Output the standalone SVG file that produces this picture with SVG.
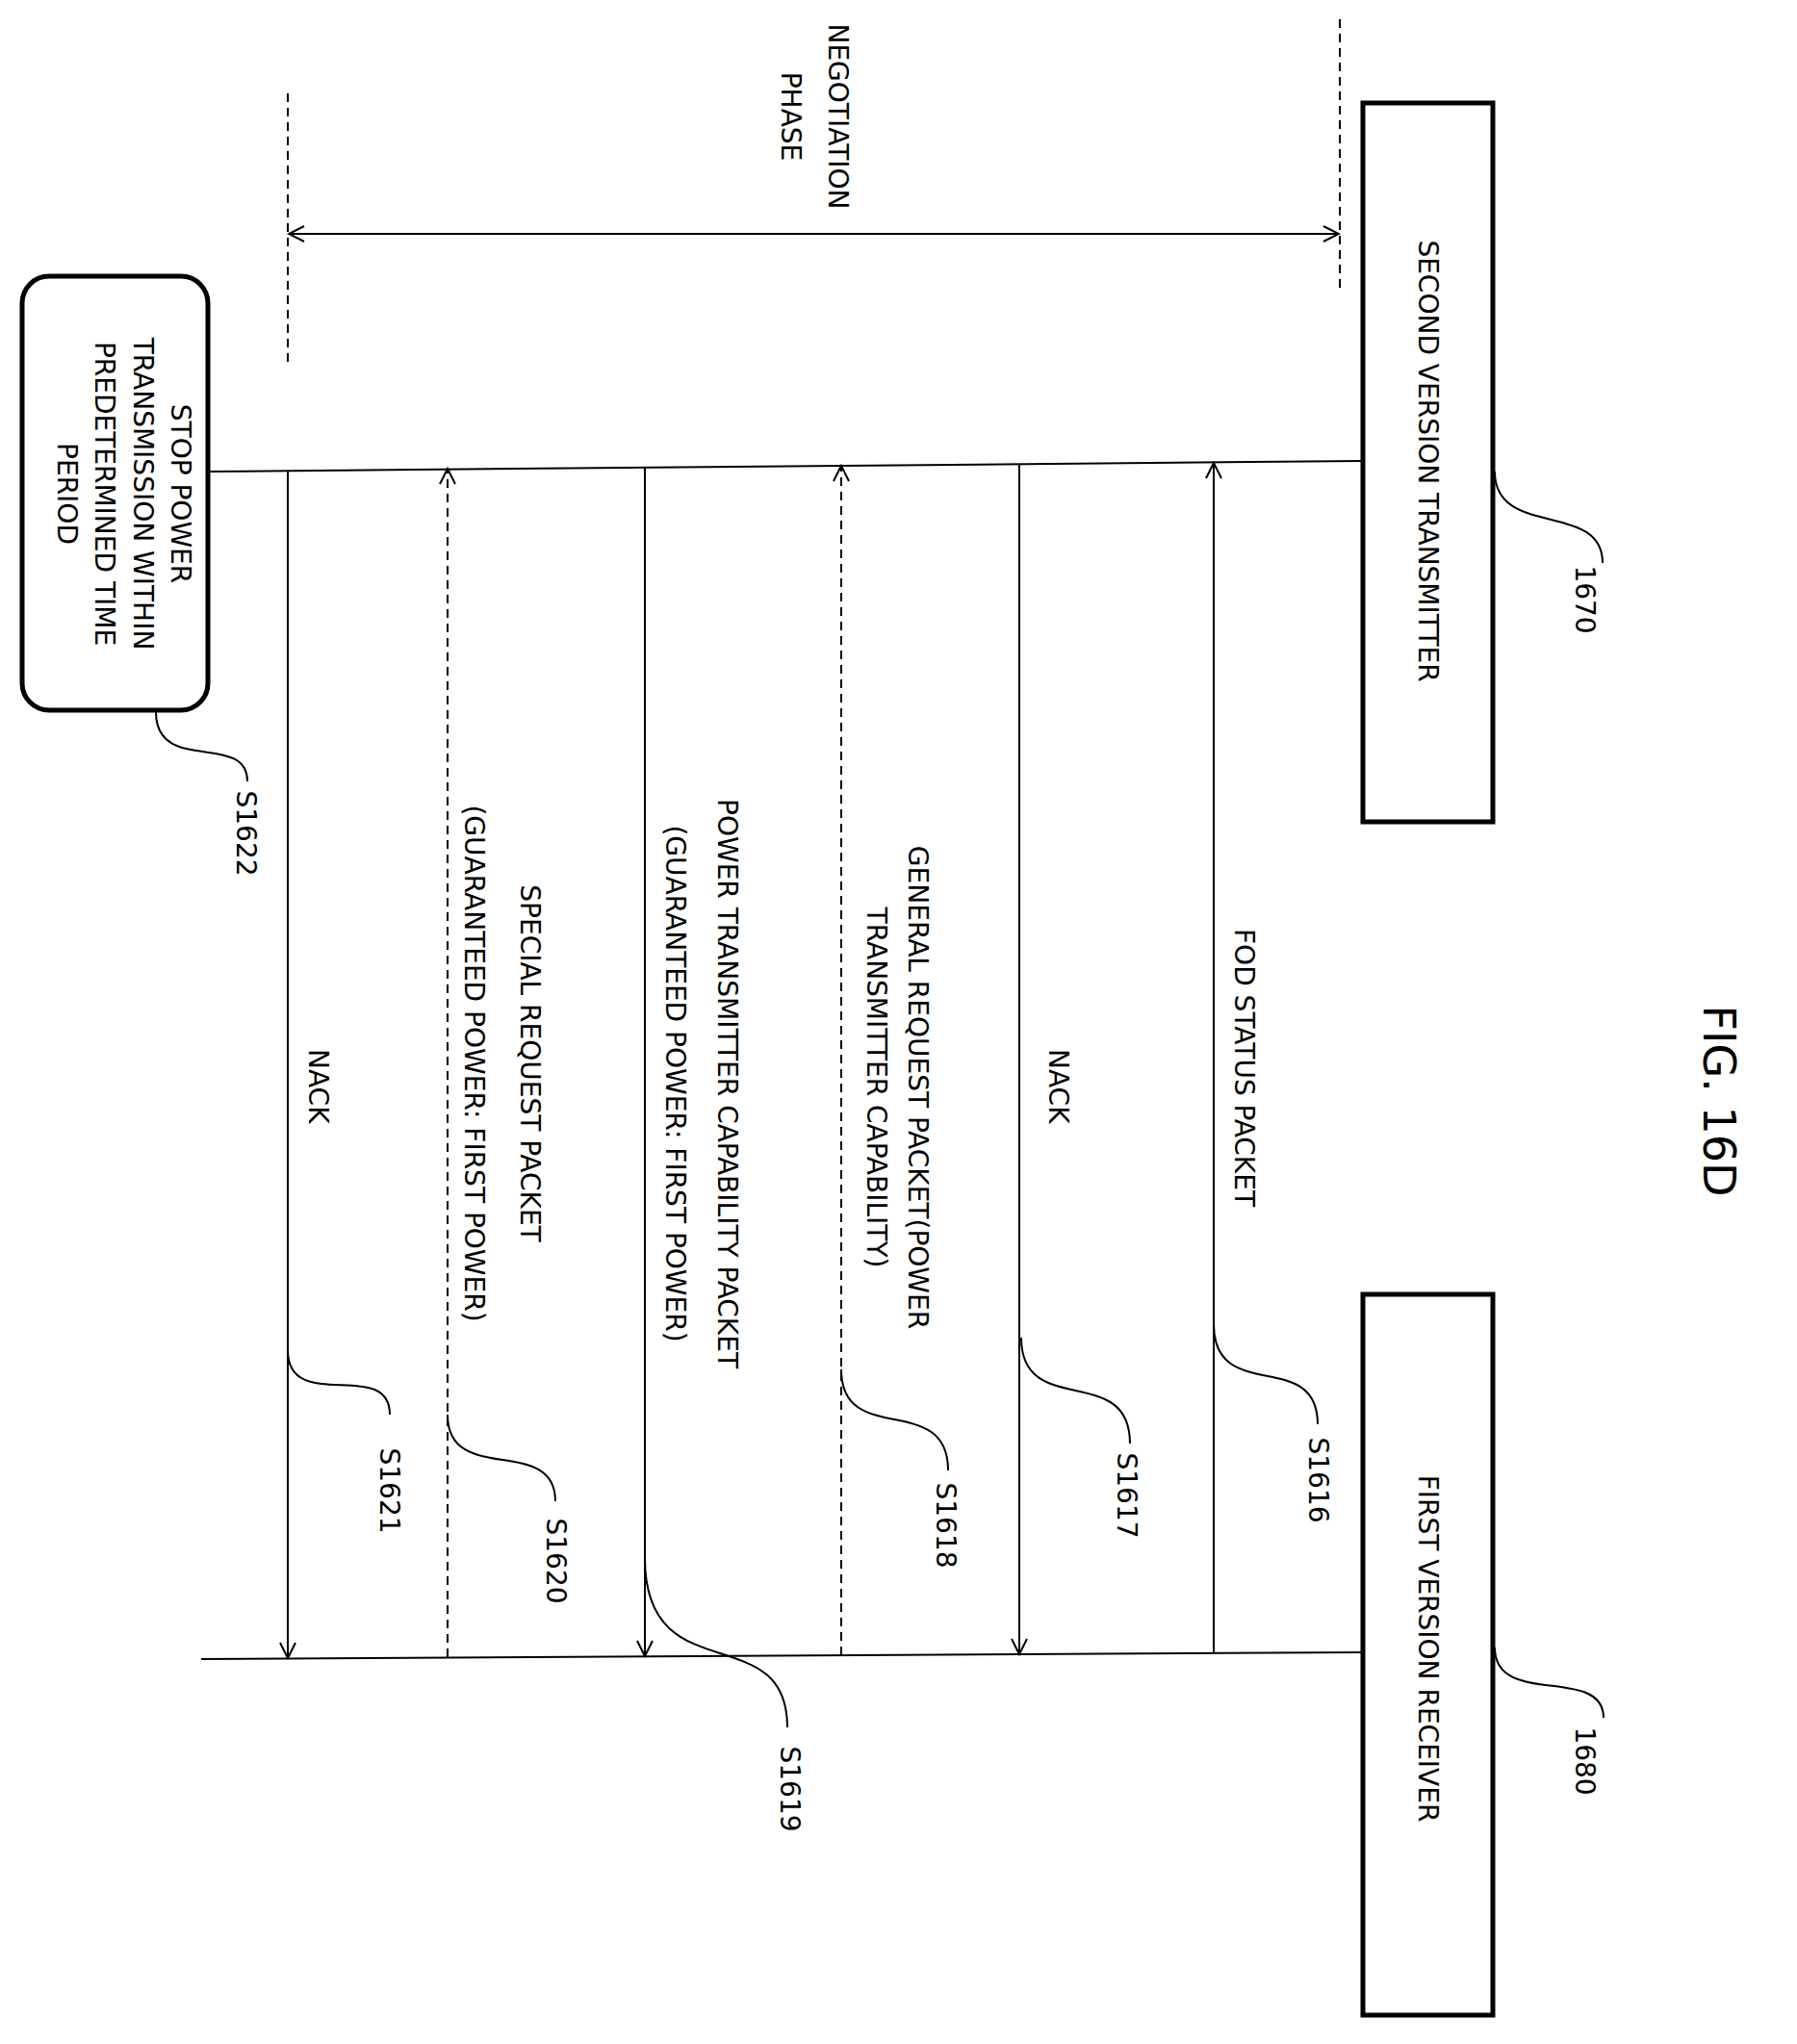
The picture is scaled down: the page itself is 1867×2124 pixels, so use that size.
<svg xmlns="http://www.w3.org/2000/svg" width="1867" height="2124" viewBox="0 0 1867 2124">
<style>
text{font-family:"DejaVu Sans","Liberation Sans",sans-serif;font-size:28px;fill:#000}
.ln{stroke:#000;stroke-width:2;fill:none}
.ds{stroke:#000;stroke-width:2;fill:none;stroke-dasharray:9,6}
.bx{stroke:#000;stroke-width:5;fill:#fff}
.ld{stroke:#000;stroke-width:2;fill:none}
</style>
<defs>
<marker id="a" viewBox="0 0 20 20" refX="18" refY="10" markerWidth="20" markerHeight="20" markerUnits="userSpaceOnUse" orient="auto-start-reverse">
<path d="M2,2 L18,10 L2,18" fill="none" stroke="#000" stroke-width="2"/>
</marker>
</defs>
<rect width="1867" height="2124" fill="#fff"/>
<g id="negotiation">
<line class="ds" x1="299" y1="97" x2="299" y2="378"/>
<line class="ds" x1="1392" y1="20" x2="1392" y2="304"/>
<line class="ln" x1="300" y1="243" x2="1391" y2="243" marker-start="url(#a)" marker-end="url(#a)"/>
<text transform="translate(861,121) rotate(90)" text-anchor="middle">NEGOTIATION</text>
<text transform="translate(812,121) rotate(90)" text-anchor="middle">PHASE</text>
</g>
<g id="fig"><text transform="translate(1770,1144) rotate(90)" text-anchor="middle" style="font-size:46px">FIG. 16D</text></g>
<g id="tx">
<rect class="bx" x="1416" y="107" width="135" height="747"/>
<text transform="translate(1474,479) rotate(90)" text-anchor="middle">SECOND VERSION TRANSMITTER</text>
<path class="ld" d="M1553,490 C1553,560 1665,520 1665,585"/>
<text transform="translate(1637,623) rotate(90)" text-anchor="middle">1670</text>
</g>
<g id="rx">
<rect class="bx" x="1416" y="1345" width="135" height="749"/>
<text transform="translate(1474,1713) rotate(90)" text-anchor="middle">FIRST VERSION RECEIVER</text>
<path class="ld" d="M1553,1712 C1553,1775 1666,1730 1666,1785"/>
<text transform="translate(1637,1830) rotate(90)" text-anchor="middle">1680</text>
</g>
<g id="stop">
<rect x="23" y="287" width="193" height="451" rx="28" ry="28" fill="#fff" stroke="#000" stroke-width="5"/>
<text transform="translate(178,513) rotate(90)" text-anchor="middle">STOP POWER</text>
<text transform="translate(139,513) rotate(90)" text-anchor="middle">TRANSMISSION WITHIN</text>
<text transform="translate(99,513) rotate(90)" text-anchor="middle">PREDETERMINED TIME</text>
<text transform="translate(60,513) rotate(90)" text-anchor="middle">PERIOD</text>
<path class="ld" d="M162,740 C162,805 257,760 257,812"/>
<text transform="translate(246,866) rotate(90)" text-anchor="middle">S1622</text>
</g>
<g id="connectors">
<path class="ln" d="M216,490 L1416,479"/>
<path class="ln" d="M209,1724 L1416,1717"/>
<line class="ln" x1="1261" y1="1718" x2="1261" y2="481" marker-end="url(#a)"/>
<line class="ln" x1="1059" y1="482" x2="1059" y2="1719" marker-end="url(#a)"/>
<line class="ds" x1="874" y1="1720" x2="874" y2="484" marker-end="url(#a)"/>
<line class="ln" x1="670" y1="485" x2="670" y2="1721" marker-end="url(#a)"/>
<line class="ds" x1="465" y1="1722" x2="465" y2="487" marker-end="url(#a)"/>
<line class="ln" x1="299" y1="489" x2="299" y2="1723" marker-end="url(#a)"/>
</g>
<g id="labels">
<text transform="translate(1283,965) rotate(90)">FOD STATUS PACKET</text>
<text transform="translate(1090,1090) rotate(90)">NACK</text>
<text transform="translate(944,1130) rotate(90)" text-anchor="middle">GENERAL REQUEST PACKET(POWER</text>
<text transform="translate(901,1130) rotate(90)" text-anchor="middle">TRANSMITTER CAPABILITY)</text>
<text transform="translate(746,1126) rotate(90)" text-anchor="middle">POWER TRANSMITTER CAPABILITY PACKET</text>
<text transform="translate(692,1126) rotate(90)" text-anchor="middle">(GUARANTEED POWER: FIRST POWER)</text>
<text transform="translate(541,1105) rotate(90)" text-anchor="middle">SPECIAL REQUEST PACKET</text>
<text transform="translate(483,1105) rotate(90)" text-anchor="middle">(GUARANTEED POWER: FIRST POWER)</text>
<text transform="translate(321,1090) rotate(90)">NACK</text>
</g>
<g id="steps">
<path class="ld" d="M1261,1376 C1261,1460 1369,1400 1369,1480"/>
<text transform="translate(1360,1538) rotate(90)" text-anchor="middle">S1616</text>
<path class="ld" d="M1061,1390 C1061,1475 1174,1415 1174,1500"/>
<text transform="translate(1161,1554) rotate(90)" text-anchor="middle">S1617</text>
<path class="ld" d="M874,1423 C874,1505 985,1445 985,1528"/>
<text transform="translate(973,1585) rotate(90)" text-anchor="middle">S1618</text>
<path class="ld" d="M670,1619 C670,1760 818,1680 818,1795"/>
<text transform="translate(811,1859) rotate(90)" text-anchor="middle">S1619</text>
<path class="ld" d="M465,1470 C465,1545 577,1490 577,1560"/>
<text transform="translate(568,1622) rotate(90)" text-anchor="middle">S1620</text>
<path class="ld" d="M299,1403 C299,1470 405,1410 405,1470"/>
<text transform="translate(395,1549) rotate(90)" text-anchor="middle">S1621</text>
</g>
</svg>
